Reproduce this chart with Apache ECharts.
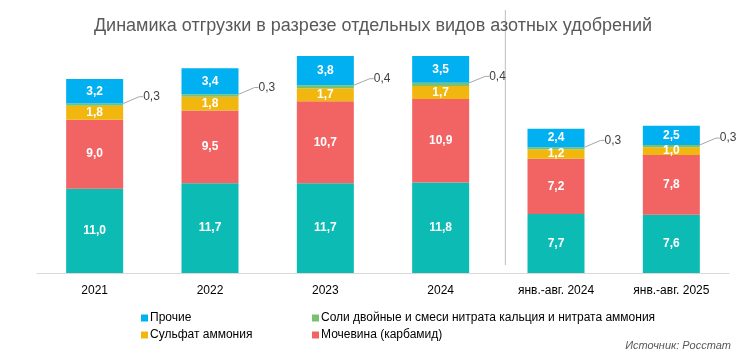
<!DOCTYPE html>
<html><head><meta charset="utf-8">
<script src="https://cdn.jsdelivr.net/npm/echarts@6/dist/echarts.min.js"></script>
<style>html,body{margin:0;padding:0;background:#fff}#c{width:746px;height:362px}</style>
</head><body><div id="c"></div>
<script>
const categories = ['2021','2022','2023','2024','янв.-авг. 2024','янв.-авг. 2025'];
const ammoniumNitrate = [11.0, 11.7, 11.7, 11.8, 7.7, 7.6];
const urea = [9.0, 9.5, 10.7, 10.9, 7.2, 7.8];
const ammoniumSulfate = [1.8, 1.8, 1.7, 1.7, 1.2, 1.0];
const doubleSalts = [0.3, 0.3, 0.4, 0.4, 0.3, 0.3];
const others = [3.2, 3.4, 3.8, 3.5, 2.4, 2.5];

const fmt = v => v.toFixed(1).replace('.', ',');
const FONT = 'Liberation Sans';
const inLabel = {show:true, position:'inside', color:'#fff', fontSize:12, fontWeight:'bold', fontFamily:FONT, formatter:p=>fmt(p.value)};

function bar(name, data, color, label, extra){
  return Object.assign({name, type:'bar', stack:'t', data, barWidth:57, itemStyle:{color}, label, emphasis:{disabled:true}}, extra||{});
}

const chart = echarts.init(document.getElementById('c'), null, {renderer:'canvas'});
chart.setOption({
  animation:false,
  title:[
    {text:'Динамика отгрузки в разрезе отдельных видов азотных удобрений', left:'center', top:12,
     textStyle:{fontSize:18, fontWeight:'normal', color:'#595959', fontFamily:FONT}},
    {text:'Источник: Росстат', right:10, bottom:6,
     textStyle:{fontSize:11, fontWeight:'normal', fontStyle:'italic', color:'#595959', fontFamily:FONT}}
  ],
  grid:{left:37, right:17, top:43, bottom:89},
  xAxis:{type:'category', data:categories,
    axisLine:{lineStyle:{color:'#d9d9d9', width:1}}, axisTick:{show:false},
    axisLabel:{color:'#000', fontSize:12, fontFamily:FONT, margin:12}},
  yAxis:{type:'value', min:0, max:30, show:false, splitLine:{show:false}},
  legend:[
    {data:['Прочие','Сульфат аммония'], orient:'vertical', left:136, top:307, itemWidth:7, itemHeight:7, itemGap:5,
     icon:'rect', textStyle:{fontSize:12, color:'#000', fontFamily:FONT, padding:[0,0,0,-3]}},
    {data:['Соли двойные и смеси нитрата кальция и нитрата аммония','Мочевина (карбамид)'], orient:'vertical', left:307, top:307, itemWidth:7, itemHeight:7, itemGap:5,
     icon:'rect', textStyle:{fontSize:12, color:'#000', fontFamily:FONT, padding:[0,0,0,-3]}}
  ],
  series:[
    bar('Аммиачная селитра', ammoniumNitrate, '#0BBBB4', inLabel),
    bar('Мочевина (карбамид)', urea, '#F26464', inLabel),
    bar('Сульфат аммония', ammoniumSulfate, '#F2B70F', inLabel),
    bar('Соли двойные и смеси нитрата кальция и нитрата аммония', doubleSalts, '#78C26E',
      {show:true, position:'right', distance:2, color:'#404040', fontSize:12, fontFamily:FONT, formatter:p=>fmt(p.value)},
      {labelLine:{show:true, length2:4, lineStyle:{color:'#a6a6a6', width:1}}, labelLayout:{dx:18, dy:-8}}),
    bar('Прочие', others, '#00B0F0', inLabel)
  ]
});
// separator between annual and period data
const xa = chart.convertToPixel({xAxisIndex:0}, 3), xb = chart.convertToPixel({xAxisIndex:0}, 4);
const sx = (xa + xb) / 2 + 7;
chart.setOption({graphic:[{type:'line', shape:{x1:sx, y1:10, x2:sx, y2:265}, style:{stroke:'#bfbfbf', lineWidth:1}, z:-1}]});
</script></body></html>
